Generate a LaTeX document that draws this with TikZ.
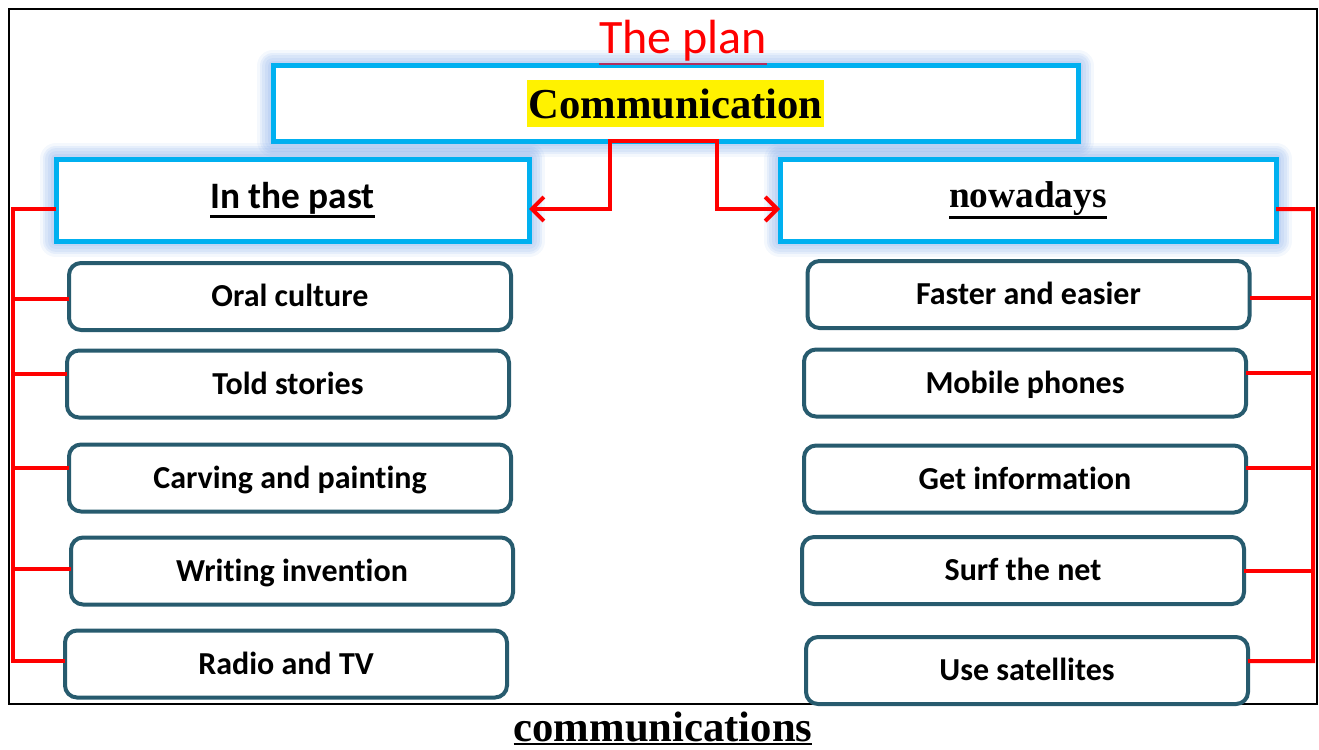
\documentclass[tikz,border=0pt]{standalone}
\usepackage{fontspec}
\setmainfont{Liberation Serif}
\newfontfamily\calibfont[Ligatures=NoCommon]{Carlito}
\usepackage{tikz}
\usetikzlibrary{arrows.meta}

\definecolor{skyline}{RGB}{0,176,240}
\definecolor{glowblue}{RGB}{100,150,228}
\definecolor{tealline}{RGB}{39,91,110}
\definecolor{planline}{RGB}{176,48,96}

% underline in text mode, rule in colour #1
\newcommand{\ulined}[2][black]{\setbox0=\hbox{#2}\leavevmode
  \vtop{\copy0\kern0.8pt{\color{#1}\hrule height 1.8pt width \wd0}}}

\begin{document}
\begin{tikzpicture}[
  x=0.75pt, y=-0.75pt,
  glow/.style={preaction={draw=glowblue, opacity=0.07, line width=24pt, line join=round},
               preaction={draw=glowblue, opacity=0.1, line width=20pt, line join=round},
               preaction={draw=glowblue, opacity=0.1, line width=16pt, line join=round},
               preaction={draw=glowblue, opacity=0.1, line width=12pt, line join=round},
               preaction={draw=glowblue, opacity=0.1, line width=8pt, line join=round}},
  headbox/.style={rectangle, draw=skyline, line width=3.75pt, fill=white, glow,
                  inner sep=0pt, outer sep=0pt, minimum width=#1, minimum height=61.5pt},
  item/.style={rectangle, draw=tealline, line width=3pt, rounded corners=9pt, fill=white,
               minimum width=331.5pt, minimum height=50.25pt, inner sep=0pt, outer sep=0pt,
               text height=20pt, text depth=4.5pt,
               font=\calibfont\bfseries\fontsize{24}{28}\selectfont},
  link/.style={draw=red, line width=3pt},
  split/.style={link, {Straight Barb[length=9pt, width=18pt]}-{Straight Barb[length=9pt, width=18pt]}}
]
\path[use as bounding box] (0,0) rectangle (1319,749);
\draw[line width=1.5pt] (9,9) rectangle (1317,704);

% heads
\node[headbox=603.75pt, minimum height=56.25pt] (comm) at (675.5,103.5) {};
\node[fill=yellow, inner xsep=1.5pt, inner ysep=0pt, text height=29pt, text depth=6.25pt,
      font=\bfseries\fontsize{32}{36}\selectfont] (commtxt) at (comm.center) {Communication};
\node[font=\calibfont\fontsize{36}{40}\selectfont, text=red, anchor=base] (plan) at (683,54)
  {\ulined[planline]{The plan}};
\node[headbox=354.75pt, font=\calibfont\bfseries\fontsize{28}{32}\selectfont] (past) at (292.5,200)
  {\ulined{In the past}};
\node[headbox=372pt, font=\bfseries\fontsize{28}{32}\selectfont] (now) at (1028,200)
  {\ulined{nowadays}};

% in the past
\node[item] (o1) at (290,296.5) {Oral culture};
\node[item] (o2) at (288,384) {Told stories};
\node[item] (o3) at (290,478) {Carving and painting};
\node[item] (o4) at (292,571) {Writing invention};
\node[item] (o5) at (286,664) {Radio and TV};

% nowadays
\node[item] (n1) at (1028.5,294.5) {Faster and easier};
\node[item] (n2) at (1025,383) {Mobile phones};
\node[item] (n3) at (1025,479) {Get information};
\node[item] (n4) at (1023,570.5) {Surf the net};
\node[item] (n5) at (1027,670.5) {Use satellites};

\node[font=\bfseries\fontsize{32}{36}\selectfont, anchor=base] (title) at (663,741)
  {\ulined{communications}};

% connectors
\coordinate (sl) at ([xshift=-49.1pt]comm.south);
\coordinate (sr) at ([xshift=31.1pt]comm.south);
\draw[split] ([yshift=-6.75pt]past.east) -| (sl) -- (sr) |- ([yshift=-6.75pt]now.west);

\coordinate (lbar) at (13,661);
\coordinate (rbar) at (1313,661);
\draw[link] ([yshift=-6.75pt]past.west) -| (lbar) -- ([yshift=2.25pt]o5.west);
\draw[link] ([yshift=-1.9pt]o1.west) coordinate (l1) -- (l1 -| lbar);
\draw[link] ([yshift=7.5pt]o2.west) coordinate (l2) -- (l2 -| lbar);
\draw[link] ([yshift=7.5pt]o3.west) coordinate (l3) -- (l3 -| lbar);
\draw[link] ([yshift=1.5pt]o4.west) coordinate (l4) -- (l4 -| lbar);

\draw[link] ([yshift=-6.75pt]now.east) -| (rbar) -- ([yshift=7.1pt]n5.east);
\draw[link] ([yshift=-2.6pt]n1.east) coordinate (r1) -- (r1 -| rbar);
\draw[link] ([yshift=7.5pt]n2.east) coordinate (r2) -- (r2 -| rbar);
\draw[link] ([yshift=8.25pt]n3.east) coordinate (r3) -- (r3 -| rbar);
\draw[link] (n4.east) -- (n4.east -| rbar);
\end{tikzpicture}
\end{document}
